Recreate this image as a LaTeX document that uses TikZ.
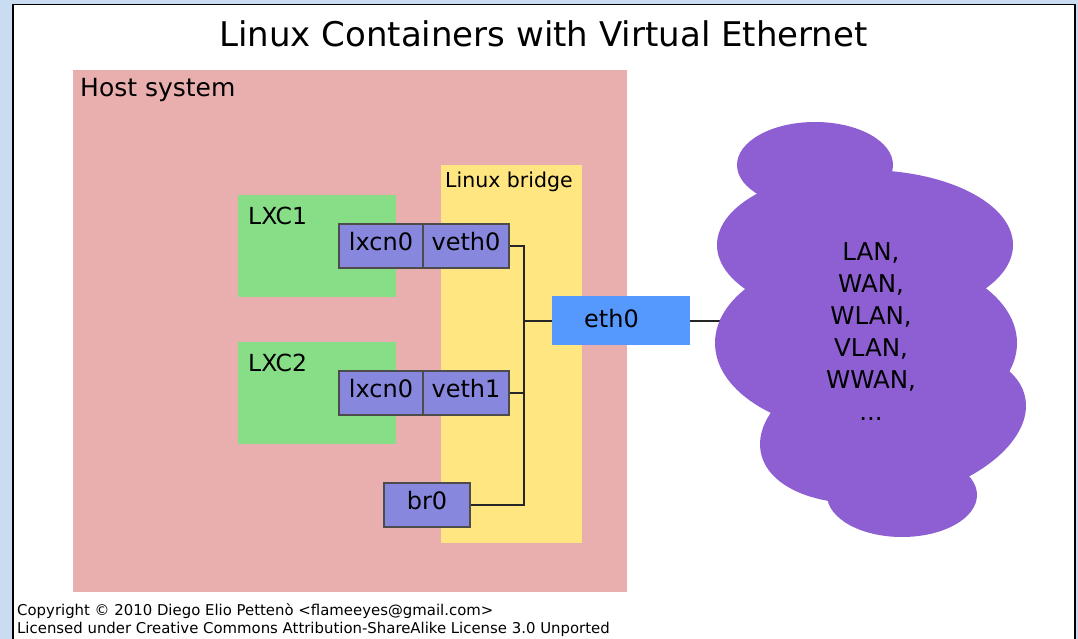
\documentclass[tikz,border=0pt]{standalone}
\usepackage{fontspec}
\setmainfont{DejaVu Sans}
\definecolor{bgblue}{HTML}{C9DCF2}
\definecolor{hostpink}{HTML}{E9AFAF}
\definecolor{bridgeyellow}{HTML}{FFE680}
\definecolor{lxcgreen}{HTML}{87DE87}
\definecolor{ifpurple}{HTML}{8787DE}
\definecolor{ethblue}{HTML}{5599FF}
\definecolor{cloudpurple}{HTML}{8D5FD3}
\begin{document}
\begin{tikzpicture}[x=1pt,y=-1pt,
  area/.style={draw=none, inner sep=0, anchor=north west},
  iface/.style={fill=ifpurple, draw=black!70, line width=1.2pt, inner sep=0,
    minimum height=44, text height=18, text depth=10,
    font=\fontsize{24}{28}\selectfont},
  lbl/.style={inner sep=0, anchor=base west},
  wire/.style={line width=2pt, black!85},
  lobe/.style={fill=cloudpurple},
]
\useasboundingbox (0,0) rectangle (1078,639);
\fill[bgblue] (0,0) rectangle (1078,639);
\begin{scope}
  \clip (0,0) rectangle (1078,639);
  \filldraw[fill=white, draw=black, line width=1.6pt] (13,4.5) rectangle (1075,700);
\end{scope}

% title
\node[inner sep=0, anchor=base, font=\fontsize{34}{40}\selectfont] (title) at (543.5,47) {Linux Containers with Virtual Ethernet};

% areas
\node[area, fill=hostpink, minimum width=554, minimum height=522] (host) at (73,70) {};
\node[lbl, font=\fontsize{25}{30}\selectfont] (hostlbl) at (80,97) {Host system};
\node[area, fill=bridgeyellow, minimum width=141, minimum height=378] (bridge) at (441,165) {};
\node[lbl, font=\fontsize{20.5}{24}\selectfont] (bridgelbl) at (445,188) {Linux bridge};
\node[area, fill=lxcgreen, minimum width=158, minimum height=102] (lxc1) at (238,195) {};
\node[lbl, font=\fontsize{23.5}{28}\selectfont] (lxc1lbl) at (248,224) {LXC1};
\node[area, fill=lxcgreen, minimum width=158, minimum height=102] (lxc2) at (238,342) {};
\node[lbl, font=\fontsize{23.5}{28}\selectfont] (lxc2lbl) at (248,371) {LXC2};

% interfaces
\node[iface, minimum width=84] (lxcna) at (381,246) {lxcn0};
\node[iface, minimum width=86] (veth0) at (466,246) {veth0};
\node[iface, minimum width=84] (lxcnb) at (381,393) {lxcn0};
\node[iface, minimum width=86] (veth1) at (466,393) {veth1};
\node[iface, minimum width=86] (br0) at (427,505) {br0};
\node[fill=ethblue, inner sep=0, minimum width=138, minimum height=49] (eth0) at (621,320.5) {};
\node[inner sep=0, anchor=base, font=\fontsize{24}{28}\selectfont] (eth0txt) at (611.5,327) {eth0};

% wires
\coordinate (bus) at (524,0);
\coordinate (cloudin) at (725,0);
\draw[wire] (veth0.east) -- (veth0.east -| bus) -- (br0.east -| bus) -- (br0.east);
\draw[wire] (veth1.east) -- (veth1.east -| bus);
\draw[wire] (eth0.west) -- (eth0.west -| bus);
\draw[wire] (eth0.east) -- (eth0.east -| cloudin);

% cloud
\fill[lobe] (815,165) ellipse [x radius=78pt, y radius=43pt];
\fill[lobe] (865,245) ellipse [x radius=148pt, y radius=75pt];
\fill[lobe] (866,343) ellipse [x radius=151pt, y radius=90pt];
\fill[lobe, rotate around={12:(893,425)}] (893,425) ellipse [x radius=135pt, y radius=75pt];
\fill[lobe] (902,495) ellipse [x radius=75pt, y radius=42pt];
\node[inner sep=0, align=center, font=\fontsize{24.5}{32}\selectfont] (nets) at (871,332) {LAN,\\WAN,\\WLAN,\\VLAN,\\WWAN,\\...};

% footer
\node[lbl, font=\fontsize{14.9}{18}\selectfont] (copy1) at (17,615) {Copyright © 2010 Diego Elio Pettenò <flameeyes@gmail.com>};
\node[lbl, font=\fontsize{14.9}{18}\selectfont] (copy2) at (17,633) {Licensed under Creative Commons Attribution-ShareAlike License 3.0 Unported};
\end{tikzpicture}
\end{document}
